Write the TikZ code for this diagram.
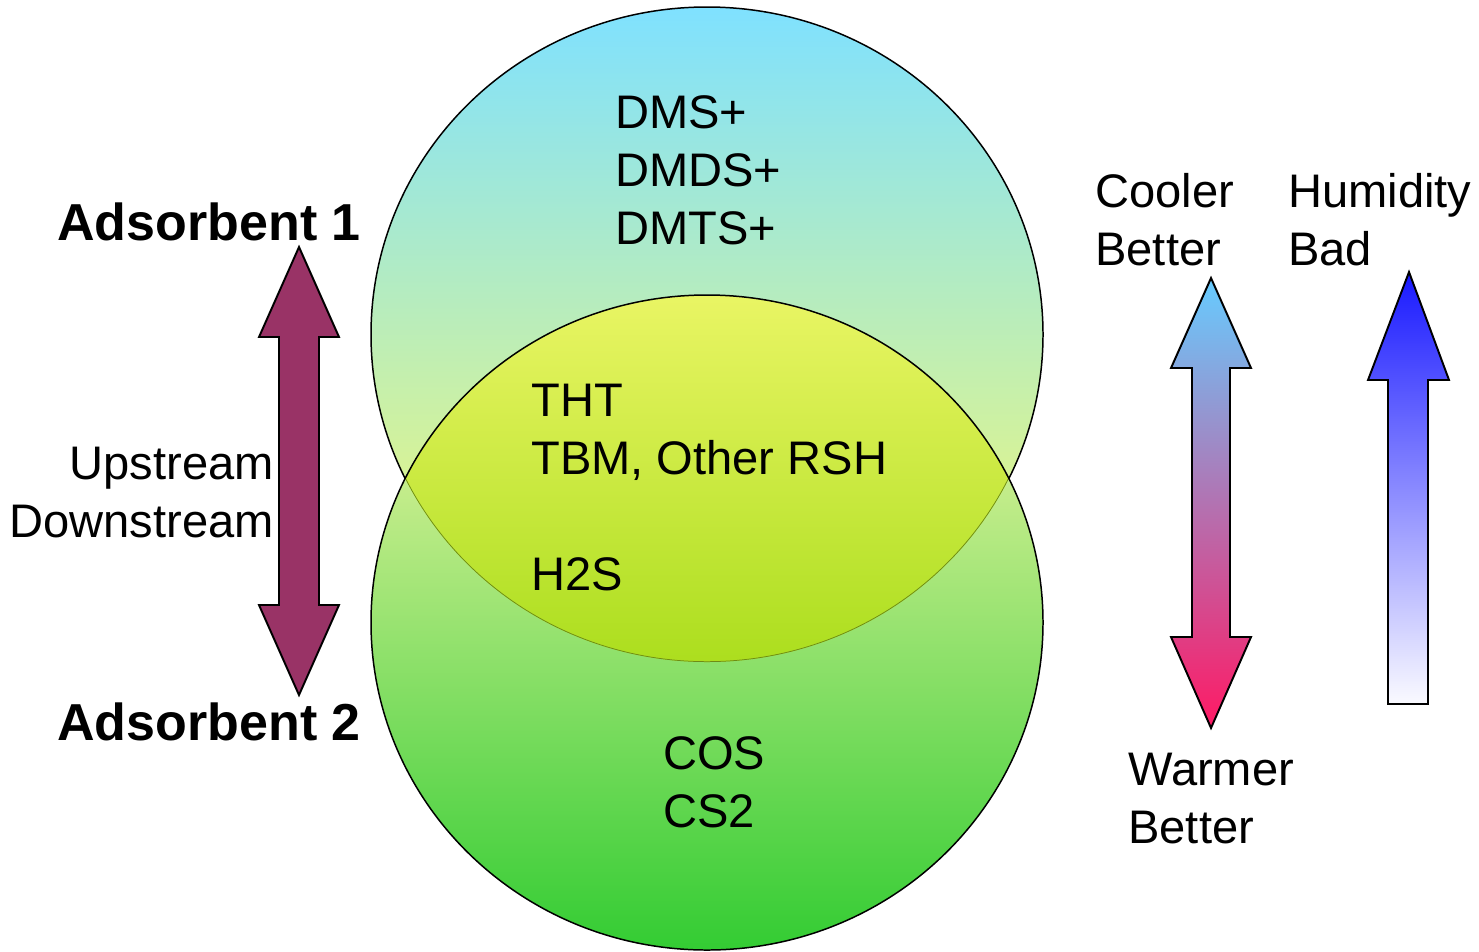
\documentclass[tikz,border=0pt]{standalone}
\usepackage{fontspec}
\setmainfont{Liberation Sans}
\usepackage{tikz}
\usetikzlibrary{calc}
\definecolor{clPlum}{HTML}{993366}
\definecolor{clSetTop}{RGB}{127,225,255}
\definecolor{clSetMid}{RGB}{213,240,195}
\definecolor{clSetBot}{RGB}{250,250,110}
\definecolor{clLowTop}{RGB}{255,250,175}
\definecolor{clLowMid}{RGB}{195,233,118}
\definecolor{clLowBot}{RGB}{51,204,51}
\definecolor{clLensTop}{RGB}{233,245,100}
\definecolor{clLensMid}{RGB}{226,242,58}
\definecolor{clLensBot}{RGB}{172,222,30}
\definecolor{clOlive}{RGB}{110,140,20}
\definecolor{clCool}{RGB}{102,204,255}
\definecolor{clCoolMid}{RGB}{190,160,205}
\definecolor{clWarm}{RGB}{255,25,100}
\definecolor{clWet}{RGB}{25,25,255}
\definecolor{clWetMid}{RGB}{170,170,255}
\definecolor{clDry}{RGB}{250,250,255}
\tikzset{
  txt/.style={inner sep=0pt, anchor=base west, align=left,
              font=\fontsize{26.8}{33}\selectfont},
  heavy/.style={txt, font=\fontsize{29.6}{36}\selectfont\bfseries},
  blockarrow/.style={draw=black, line width=1.1pt, line join=miter},
  setline/.style={draw=black, line width=0.85pt},
}

\begin{document}
\begin{tikzpicture}[x=0.02cm, y=-0.02cm]
  \useasboundingbox (0,0) rectangle (1479,951);
  \coordinate (upc) at (707,334.5);
  \coordinate (loc) at (707,622.5);
  % the two sets
  \shade[setline, top color=clSetTop, middle color=clSetMid, bottom color=clSetBot]
    (upc) ellipse [x radius=336, y radius=327.5];
  \shade[top color=clLowTop, middle color=clLowMid, bottom color=clLowBot]
    (loc) ellipse [x radius=336, y radius=327.5];
  \begin{scope}
    \clip (upc) ellipse [x radius=336, y radius=327.5];
    \clip (loc) ellipse [x radius=336, y radius=327.5];
    \shade[top color=clLensTop, middle color=clLensMid, bottom color=clLensBot]
      (371,295) rectangle (1043,662);
    \draw[clOlive, line width=0.85pt] (upc) ellipse [x radius=336, y radius=327.5];
  \end{scope}
  \draw[setline] (loc) ellipse [x radius=336, y radius=327.5];

  % block arrows
  \fill[blockarrow, fill=clPlum] (299,247) -- (339,337) -- (319,337) -- (319,605)
    -- (339,605) -- (299,695) -- (259,605) -- (279,605) -- (279,337) -- (259,337) -- cycle;
  \shade[blockarrow, top color=clCool, middle color=clCoolMid, bottom color=clWarm]
    (1211,278) -- (1251,368) -- (1230,368) -- (1230,637) -- (1251,637) -- (1211,728)
    -- (1171,637) -- (1192,637) -- (1192,368) -- (1171,368) -- cycle;
  \shade[blockarrow, top color=clWet, middle color=clWetMid, bottom color=clDry]
    (1409,272) -- (1449,380) -- (1428,380) -- (1428,704) -- (1388,704) -- (1388,380)
    -- (1368,380) -- cycle;

  % labels (base = last line)
  \node[heavy] (adsA) at (57,240) {Adsorbent 1};
  \node[heavy] (adsB) at (57,740) {Adsorbent 2};
  \node[txt, anchor=base east, align=right] (updown) at (274,537) {Upstream\\Downstream};
  \node[txt] (topset) at (615,244) {DMS+\\DMDS+\\DMTS+};
  \node[txt] (lens) at (531,590) {THT\\TBM, Other RSH\\[33pt]H2S};
  \node[txt] (lowset) at (663,827) {COS\\CS2};
  \node[txt] (cool) at (1095,265) {Cooler\\Better};
  \node[txt] (humid) at (1288,265) {Humidity\\Bad};
  \node[txt] (warm) at (1128,843) {Warmer\\Better};
\end{tikzpicture}
\end{document}
